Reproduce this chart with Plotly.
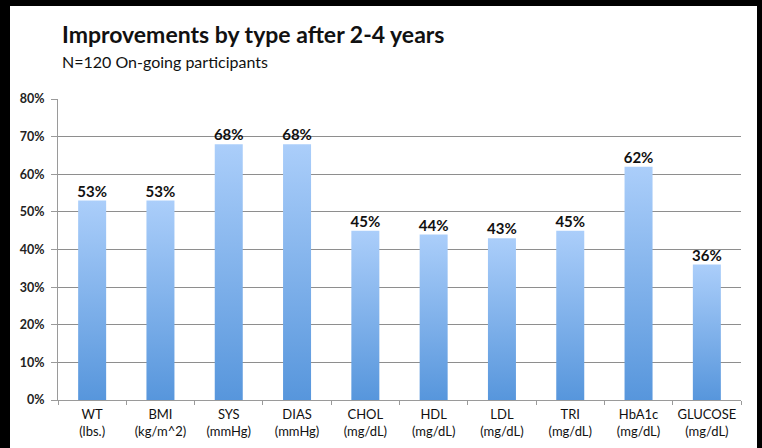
import plotly.graph_objects as go

# Improvement rates by measurement type
categories = ["WT", "BMI", "SYS", "DIAS", "CHOL", "HDL", "LDL", "TRI", "HbA1c", "GLUCOSE"]
units = ["(lbs.)", "(kg/m^2)", "(mmHg)", "(mmHg)", "(mg/dL)", "(mg/dL)", "(mg/dL)", "(mg/dL)", "(mg/dL)", "(mg/dL)"]
improved_pct = [53, 53, 68, 68, 45, 44, 43, 45, 62, 36]
y_ticks = [0, 10, 20, 30, 40, 50, 60, 70, 80]

W, H = 762, 448
ML, MR, MT, MB = 58, 21, 99, 48
PW, PH = W - ML - MR, H - MT - MB
BAR_HALF = 0.205
FONT = "Lato, Carlito, Calibri, sans-serif"


def px_x(px):
    return (px - ML) / PW


def px_y(py):
    return (H - MB - py) / PH


fig = go.Figure()

# Each bar is a filled polygon so it can carry a vertical gradient
for i, v in enumerate(improved_pct):
    fig.add_trace(go.Scatter(
        x=[i - BAR_HALF, i - BAR_HALF, i + BAR_HALF, i + BAR_HALF, i - BAR_HALF],
        y=[0, v, v, 0, 0],
        mode="lines",
        line=dict(width=0),
        fill="toself",
        fillgradient=dict(type="vertical",
                          colorscale=[[0, "#5796dc"], [1, "#abcefa"]]),
        hoverinfo="skip",
        showlegend=False,
    ))

# Value labels above the bars
fig.add_trace(go.Scatter(
    x=list(range(len(categories))),
    y=improved_pct,
    mode="text",
    text=[f"<b>{v}%</b>" for v in improved_pct],
    textposition="top center",
    textfont=dict(family=FONT, size=15, color="#111111"),
    showlegend=False,
    hoverinfo="skip",
))

tick_text = [f"{c}<br>{u}" for c, u in zip(categories, units)]

fig.update_layout(
    width=W, height=H,
    margin=dict(l=ML, r=MR, t=MT, b=MB, pad=0),
    paper_bgcolor="black",
    plot_bgcolor="white",
    font=dict(family=FONT, color="#111111"),
    xaxis=dict(
        range=[-0.5, len(categories) - 0.5],
        tickvals=list(range(len(categories))),
        ticktext=tick_text,
        tickfont=dict(size=13, family=FONT, color="#111111"),
        ticks="",
        ticklabelstandoff=2,
        automargin=False,
        showgrid=False,
        zeroline=False,
        showline=True, linecolor="#9a9a9a", linewidth=1,
        minor=dict(tickvals=[k + 0.5 for k in range(-1, len(categories))],
                   ticks="outside", ticklen=4, tickcolor="#9a9a9a", showgrid=False),
        fixedrange=True,
    ),
    yaxis=dict(
        range=[0, 80],
        tickvals=y_ticks,
        ticktext=[f"<b>{t}%</b>" for t in y_ticks],
        tickfont=dict(size=12.5, family=FONT, color="#222222"),
        ticks="outside", ticklen=6, tickcolor="#9a9a9a",
        ticklabelstandoff=4,
        automargin=False,
        showgrid=True, gridcolor="#8e8e8e", gridwidth=1,
        zeroline=False,
        showline=True, linecolor="#9a9a9a", linewidth=1,
        fixedrange=True,
    ),
    shapes=[
        # white chart panel inside the dark frame
        dict(type="rect", xref="paper", yref="paper", layer="below",
             x0=px_x(10), x1=px_x(757), y0=px_y(H + 2), y1=px_y(6),
             fillcolor="white", line=dict(width=0)),
    ],
    annotations=[
        dict(text="<b>Improvements by type after 2-4 years</b>",
             xref="paper", yref="paper",
             x=px_x(60), y=px_y(18),
             xanchor="left", yanchor="top", showarrow=False,
             font=dict(size=23, family=FONT, color="#111111")),
        dict(text="N=120 On-going participants",
             xref="paper", yref="paper",
             x=px_x(60), y=px_y(50),
             xanchor="left", yanchor="top", showarrow=False,
             font=dict(size=16, family=FONT, color="#111111")),
    ],
)

fig.write_html("out.html")
